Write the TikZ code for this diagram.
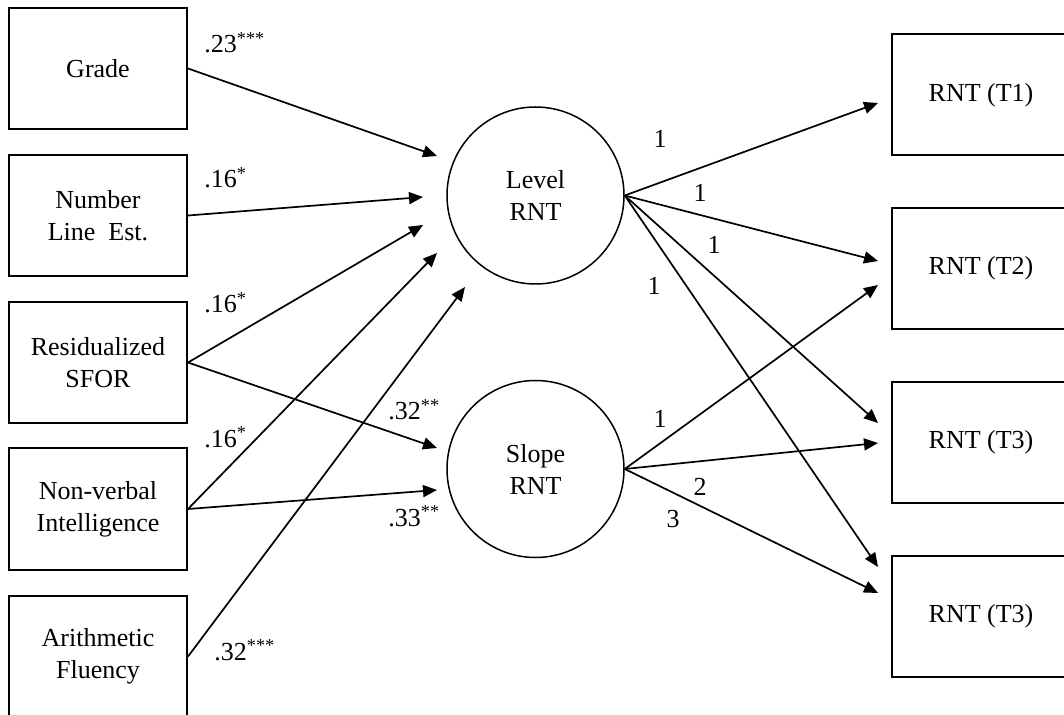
\documentclass[tikz,border=0pt]{standalone}
\usepackage{fontspec}
\setmainfont{Liberation Serif}
\usetikzlibrary{arrows.meta}
\begin{document}
\begin{tikzpicture}[x=0.5pt,y=-0.5pt,
  every node/.style={font=\fontsize{13pt}{16pt}\selectfont},
  obsbox/.style={draw, line width=1pt, minimum width=89pt, minimum height=60.5pt, align=center, inner sep=0pt},
  latent/.style={draw, circle, line width=0.75pt, minimum size=88.5pt, align=center, inner sep=0pt},
  path/.style={line width=0.85pt, -{Triangle[length=7pt,width=6pt]}},
  coef/.style={anchor=base west, inner sep=0pt},
  load/.style={anchor=base, inner sep=0pt}]
\clip (0,0) rectangle (1064,715);
\fill[white] (0,0) rectangle (1064,715);
% observed predictors
\node[obsbox] (grade) at (98,68.5) {Grade};
\node[obsbox] (numline) at (98,215.5) {Number\\Line\ \ Est.};
\node[obsbox] (resid) at (98,362.5) {Residualized\\SFOR};
\node[obsbox] (nonverb) at (98,509) {Non-verbal\\Intelligence};
\node[obsbox] (arith) at (98,656.5) {Arithmetic\\Fluency};
% latent
\node[latent] (level) at (535.5,195.5) {Level\\RNT};
\node[latent] (slope) at (535.5,469) {Slope\\RNT};
% outcomes
\node[obsbox] (t1) at (981,95) {RNT (T1)};
\node[obsbox] (t2) at (981,268.5) {RNT (T2)};
\node[obsbox] (t3) at (981,442.5) {RNT (T3)};
\node[obsbox] (t4) at (981,616) {RNT (T3)};
% arrow tips
\coordinate (gL) at (437,156);
\coordinate (nL) at (423,197);
\coordinate (rL) at (423,225);
\coordinate (vL) at (437,253);
\coordinate (aL) at (465,287);
\coordinate (rS) at (437,448);
\coordinate (vS) at (437,490);
\coordinate (L1) at (878,103);
\coordinate (L2) at (878,261);
\coordinate (L3) at (878,423);
\coordinate (L4) at (878,567);
\coordinate (S2) at (878,285);
\coordinate (S3) at (878,443);
\coordinate (S4) at (878,593);
% paths
\draw[path] (grade.east) -- (gL);
\draw[path] (numline.east) -- (nL);
\draw[path] (resid.east) -- (rL);
\draw[path] (resid.east) -- (rS);
\draw[path] (nonverb.east) -- (vL);
\draw[path] (nonverb.east) -- (vS);
\draw[path] (arith.east) -- (aL);
\draw[path] (level.east) -- (L1);
\draw[path] (level.east) -- (L2);
\draw[path] (level.east) -- (L3);
\draw[path] (level.east) -- (L4);
\draw[path] (slope.east) -- (S2);
\draw[path] (slope.east) -- (S3);
\draw[path] (slope.east) -- (S4);
% coefficients
\node[coef] (c1) at (204,53) {.23\textsuperscript{***}};
\node[coef] (c2) at (204,188) {.16\textsuperscript{*}};
\node[coef] (c3) at (204,313) {.16\textsuperscript{*}};
\node[coef] (c4) at (204,447) {.16\textsuperscript{*}};
\node[coef] (c5) at (388,420) {.32\textsuperscript{**}};
\node[coef] (c6) at (388,526) {.33\textsuperscript{**}};
\node[coef] (c7) at (214,660) {.32\textsuperscript{***}};
% loadings
\node[load] (l1) at (660,148) {1};
\node[load] (l2) at (700,202) {1};
\node[load] (l3) at (714,254) {1};
\node[load] (l4) at (654,295) {1};
\node[load] (s1) at (660,428) {1};
\node[load] (s2) at (700,495) {2};
\node[load] (s3) at (673,527) {3};
\end{tikzpicture}
\end{document}
